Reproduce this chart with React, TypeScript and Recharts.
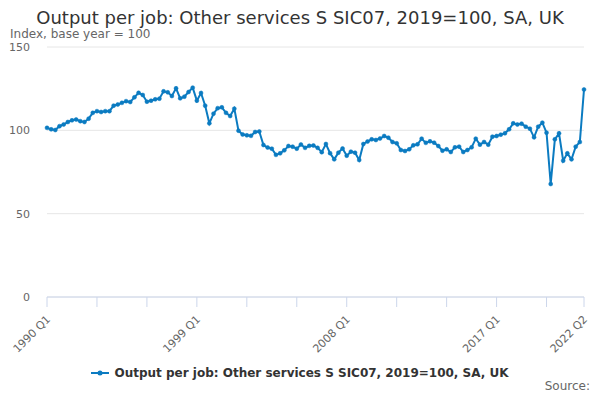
import { LineChart, Line, XAxis, YAxis, CartesianGrid } from 'recharts'

const SERIES_NAME = 'Output per job: Other services S SIC07, 2019=100, SA, UK'
const LINE_COLOR = '#0b7bc1'

// quarters 1990 Q1 .. 2022 Q2
const years = Array.from({ length: 33 }, (_, i) => 1990 + i)
const quarters = ['Q1', 'Q2', 'Q3', 'Q4']
const labels = years.flatMap((y) => quarters.map((q) => `${y} ${q}`)).slice(0, 130)

const values = [
  101.5, 100.6, 100.2, 102.5, 103.5, 105, 106, 106.5, 105.5, 105,
  107, 110.5, 111.5, 111, 111.5, 111.5, 114.8, 115.5, 116.5, 117.5,
  117, 119.8, 122.5, 121.2, 117.2, 117.8, 118.6, 119, 123.4, 122.8,
  120.6, 125.2, 119.2, 120.2, 123, 125.6, 117.8, 122.4, 114.8, 104.2,
  110, 113.3, 113.8, 110.5, 108.6, 113, 99.8, 97.5, 97, 96.7,
  99, 99.3, 91.2, 89.7, 89, 85.3, 86.2, 88, 90.6, 90.2,
  89, 91.5, 89.5, 90.7, 90.9, 89.5, 86.9, 91.8, 86.3, 82.6,
  86.6, 89.1, 84.8, 87.2, 86.6, 82.2, 91.8, 93.3, 94.6, 94.2,
  95.1, 96.6, 95.6, 93, 92.2, 88.2, 87.6, 88.6, 91, 91.6,
  95, 92.5, 93.4, 92.6, 90.6, 87.8, 88.6, 87, 89.8, 90.2,
  87, 88.2, 89.8, 95, 91.4, 93, 91.4, 96.2, 96.6, 97.4,
  98.2, 100.6, 104.2, 103.5, 104, 102.2, 101, 95.8, 102.2, 104.6,
  98.6, 67.8, 94.6, 98.2, 81.8, 86.2, 82.6, 90.2, 93, 124.5,
]

const yTicks = [0, 50, 100, 150]
const xTicks = ['1990 Q1', '1993 Q1', '1996 Q1', '1999 Q1', '2002 Q1', '2005 Q1', '2008 Q1', '2011 Q1', '2014 Q1', '2017 Q1', '2020 Q1', '2022 Q2']
const xLabelled = ['1990 Q1', '1999 Q1', '2008 Q1', '2017 Q1', '2022 Q2']

const data = labels.map((label, i) => ({ label, value: values[i] }))

function XTick({ x, y, payload }: any) {
  if (!xLabelled.includes(payload.value)) return null
  return (
    <text
      transform={`translate(${x + 4},${y + 11}) rotate(-45)`}
      textAnchor="end"
      fontSize={11}
      fill="#666666"
    >
      {payload.value}
    </text>
  )
}

export default function App() {
  return (
    <div style={{ position: 'relative', width: 600, height: 400, margin: -8, fontFamily: '"DejaVu Sans", sans-serif' }}>
      <div style={{ position: 'absolute', top: 7, left: 0, width: 600, textAlign: 'center', fontSize: 18, lineHeight: '22px', color: '#333333' }}>
        {SERIES_NAME}
      </div>
      <div style={{ position: 'absolute', top: 27, left: 10, fontSize: 12, lineHeight: '14px', color: '#666666' }}>
        Index, base year = 100
      </div>
      <LineChart width={600} height={400} data={data} margin={{ top: 47, right: 16, bottom: 73, left: 0 }}>
        <CartesianGrid vertical={false} stroke="#e6e6e6" />
        <XAxis
          dataKey="label"
          ticks={xTicks}
          interval={0}
          tick={<XTick />}
          tickSize={10}
          height={30}
          stroke="#ccd6eb"
          tickLine={{ stroke: '#ccd6eb' }}
          axisLine={{ stroke: '#ccd6eb' }}
        />
        <YAxis
          width={47}
          domain={[0, 150]}
          ticks={yTicks}
          axisLine={false}
          tickLine={false}
          tickMargin={11}
          tick={{ fontSize: 11, fill: '#666666' }}
        />
        <Line
          type="linear"
          dataKey="value"
          name={SERIES_NAME}
          stroke={LINE_COLOR}
          strokeWidth={2}
          dot={{ r: 2, fill: LINE_COLOR, stroke: LINE_COLOR, strokeWidth: 0.5 }}
          isAnimationActive={false}
        />
      </LineChart>
      <div style={{ position: 'absolute', top: 366, left: 0, width: 600, display: 'flex', justifyContent: 'center', alignItems: 'center' }}>
        <svg width={18} height={10} style={{ marginRight: 5 }}>
          <line x1={0} y1={5} x2={18} y2={5} stroke={LINE_COLOR} strokeWidth={2} />
          <circle cx={9} cy={5} r={2.5} fill={LINE_COLOR} />
        </svg>
        <span style={{ fontSize: 12, lineHeight: '14px', fontWeight: 'bold', color: '#333333' }}>{SERIES_NAME}</span>
      </div>
      <div style={{ position: 'absolute', top: 379, right: 10, fontSize: 12, lineHeight: '14px', color: '#666666' }}>Source:</div>
    </div>
  )
}
